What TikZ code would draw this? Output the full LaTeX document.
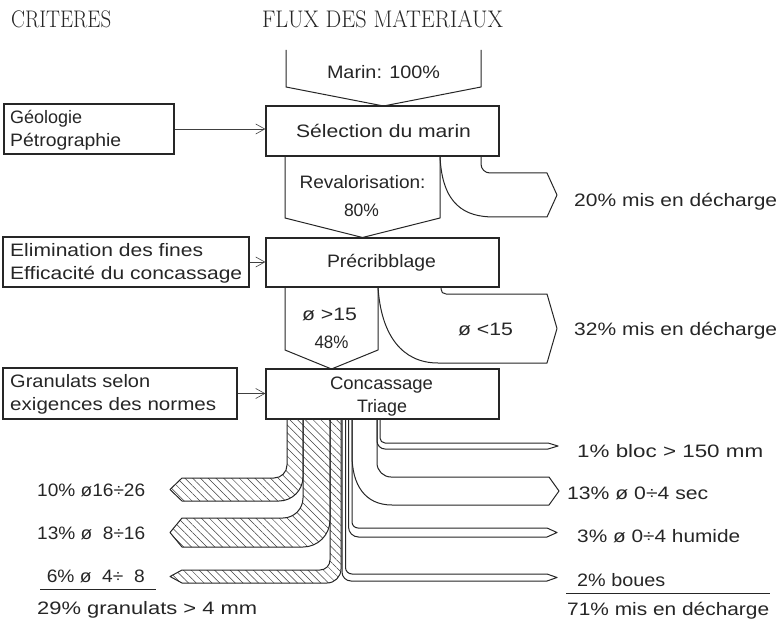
\documentclass[tikz,border=0pt]{standalone}
\usepackage{fontspec}
\usepackage{graphicx}
\usetikzlibrary{arrows.meta,patterns.meta}
\newfontfamily\cadsans{Liberation Sans}
\newcommand\fw[2]{\resizebox{#1pt}{\height}{#2}}
\begin{document}
\begin{tikzpicture}[x=1pt,y=-1pt,
  lbl/.style={inner sep=0pt, font=\cadsans\fontsize{18}{21}\selectfont, text=black!85},
  ttl/.style={inner sep=0pt, font=\fontsize{24}{28}\selectfont, text=black!85},
  box/.style={draw=black!85, line width=1.3pt, inner sep=0pt},
  flow/.style={draw=black!85, line width=1pt, line join=round},
  hatch/.style={flow, pattern={Lines[angle=-45,distance=5.5pt,line width=0.5pt]}, pattern color=black!75},
  crit/.style={draw=black!75, line width=0.6pt, -{Straight Barb[length=9pt,width=10pt]}},
  rulex/.style={draw=black!85, line width=1pt}]
\useasboundingbox[fill=white] (0,0) rectangle (781,620);

% titles
\node[ttl, anchor=base west] (tcrit) at (11,28) {\fw{100}{CRITERES}};
\node[ttl, anchor=base] (tflux) at (382.5,28) {\fw{241}{FLUX DES MATERIAUX}};

% boxes
\node[box, minimum width=170pt, minimum height=50pt] (geo) at (89,129) {};
\node[box, minimum width=233pt, minimum height=50pt] (sel) at (382.5,131) {};
\node[box, minimum width=246pt, minimum height=50pt] (elim) at (126,262) {};
\node[box, minimum width=233pt, minimum height=49pt] (pre) at (382.5,262.5) {};
\node[box, minimum width=234pt, minimum height=51pt] (gran) at (120,393.5) {};
\node[box, minimum width=233pt, minimum height=50pt] (conc) at (382.5,394) {};

% criteria arrows
\draw[crit] (geo.east) -- (geo.east -| sel.west);
\draw[crit] (elim.east) -- (elim.east -| pre.west);
\draw[crit] (gran.east) -- (gran.east -| conc.west);

% box texts
\node[lbl, anchor=base] (tsel) at (383.5,138) {\fw{175}{Sélection du marin}};
\node[lbl, anchor=base west] (tgeo1) at (10,124) {\fw{72}{Géologie}};
\node[lbl, anchor=base west] (tgeo2) at (10,147) {\fw{111}{Pétrographie}};
\node[lbl, anchor=base west] (telim1) at (10,256) {\fw{193}{Elimination des fines}};
\node[lbl, anchor=base west] (telim2) at (10,279) {\fw{232}{Efficacité du concassage}};
\node[lbl, anchor=base] (tpre) at (381.5,268) {\fw{109}{Précribblage}};
\node[lbl, anchor=base west] (tgran1) at (10,387) {\fw{140}{Granulats selon}};
\node[lbl, anchor=base west] (tgran2) at (10,410) {\fw{206}{exigences des normes}};
\node[lbl, anchor=base] (tconc1) at (381.5,389) {\fw{103}{Concassage}};
\node[lbl, anchor=base] (tconc2) at (382,412) {\fw{50}{Triage}};

% Marin input
\draw[flow] (286,50) -- (286,87) -- (383.5,106) -- (481,87) -- (481,50);
\node[lbl, anchor=base] (tmarin) at (383.5,79) {\fw{113}{Marin: 100\%}};

% Revalorisation 80%
\draw[flow] (285,156) -- (285,218) -- (362.5,237.5) -- (440,218) -- (440,156);
\node[lbl, anchor=base] (treval) at (362.5,189) {\fw{126}{Revalorisation:}};
\node[lbl, anchor=base] (t80) at (361.5,217) {\fw{35}{80\%}};

% 20% out
\draw[flow] (481,156) -- (481,164) .. controls (481,169) and (485,173) .. (490,173)
  -- (547,173) -- (557,195) -- (547,217) -- (494,217)
  .. controls (465,217) and (442,205) .. (440,156);
\node[lbl, anchor=base west] (t20) at (574,207) {\fw{203}{20\% mis en décharge}};

% >15 48%
\draw[flow] (285,287) -- (285,350) -- (331.5,369) -- (378,350) -- (378,287);
\node[lbl, anchor=base] (tsup) at (329.5,320) {\fw{55}{ø >15}};
\node[lbl, anchor=base] (t48) at (331.5,348) {\fw{34}{48\%}};

% <15 32% out
\draw[flow] (441,287) -- (441,289) .. controls (441,292) and (443,294) .. (446,294)
  -- (547,294) -- (557,328.5) -- (547,363) -- (438,363)
  .. controls (402,363) and (381,335) .. (378,287);
\node[lbl, anchor=base] (tinf) at (485.5,335) {\fw{55}{ø <15}};
\node[lbl, anchor=base west] (t32) at (574,335) {\fw{203}{32\% mis en décharge}};

% hatched granulate flows
\draw[hatch] (287,419) -- (287,465) .. controls (287,472.2) and (281.2,478) .. (274,478)
  -- (182,478) -- (170,489.5) -- (182,501) -- (279,501)
  .. controls (292.2,501) and (303,490.2) .. (303,477) -- (303,419) -- cycle;
\draw[hatch] (303,419) -- (303,498) .. controls (303,509) and (294,518) .. (283,518)
  -- (182,518) -- (170,532.5) -- (182,547) -- (303,547)
  .. controls (317.9,547) and (330,534.9) .. (330,520) -- (330,419) -- cycle;
\draw[hatch] (330,419) -- (330,560) .. controls (330,565.5) and (325.5,570) .. (320,570)
  -- (182,570) -- (170,576.5) -- (182,583) -- (327,583)
  .. controls (334.7,583) and (341,576.7) .. (341,569) -- (341,419) -- cycle;

% right flows
\draw[flow] (342,419) -- (342,572) .. controls (342,577) and (346,581) .. (351,581)
  -- (547,581) -- (557,577.5) -- (547,574) -- (352,574)
  .. controls (348.4,574) and (345.5,571.1) .. (345.5,567.5) -- (345.5,419);
\draw[flow] (348.5,419) -- (348.5,527) .. controls (348.5,532.5) and (353,537) .. (358.5,537)
  -- (547,537) -- (557,532.5) -- (547,528) -- (358,528)
  .. controls (354.7,528) and (352,525.3) .. (352,522) -- (352,419);
\draw[flow] (352,419) -- (352,455) .. controls (352,485) and (365,505) .. (392,505)
  -- (549,505) -- (559,491) -- (549,477) -- (391,477)
  .. controls (383.3,477) and (377,470.7) .. (377,463) -- (377,419);
\draw[flow] (377,419) -- (377,441) .. controls (377,445.4) and (380.6,449) .. (385,449)
  -- (548,449) -- (558,446) -- (548,443) -- (385,443)
  .. controls (382.2,443) and (380,440.8) .. (380,438) -- (380,419);

% left labels
\node[lbl, anchor=base west] (t10) at (37,496) {\fw{108}{10\% ø16÷26}};
\node[lbl, anchor=base west] (t13) at (37,539) {\fw{108}{13\% ø \ 8÷16}};
\node[lbl, anchor=base east] (t6) at (145,582) {\fw{98}{6\% ø \ 4÷\hphantom{1}8}};
\coordinate (rl1) at (40,589);
\coordinate (rl2) at (156,589);
\draw[rulex] (rl1) -- (rl2);
\node[lbl, anchor=base west] (t29) at (37,614) {\fw{220}{29\% granulats > 4 mm}};

% right labels
\node[lbl, anchor=base west] (t1) at (577,457) {\fw{186}{1\% bloc > 150 mm}};
\node[lbl, anchor=base west] (t13s) at (567,499) {\fw{141}{13\% ø 0÷4 sec}};
\node[lbl, anchor=base west] (t3) at (577,542) {\fw{163}{3\% ø 0÷4 humide}};
\node[lbl, anchor=base west] (t2) at (577,586) {\fw{88}{2\% boues}};
\coordinate (rr1) at (566,593);
\coordinate (rr2) at (770,593);
\draw[rulex] (rr1) -- (rr2);
\node[lbl, anchor=base west] (t71) at (567,615) {\fw{202}{71\% mis en décharge}};
\end{tikzpicture}
\end{document}
